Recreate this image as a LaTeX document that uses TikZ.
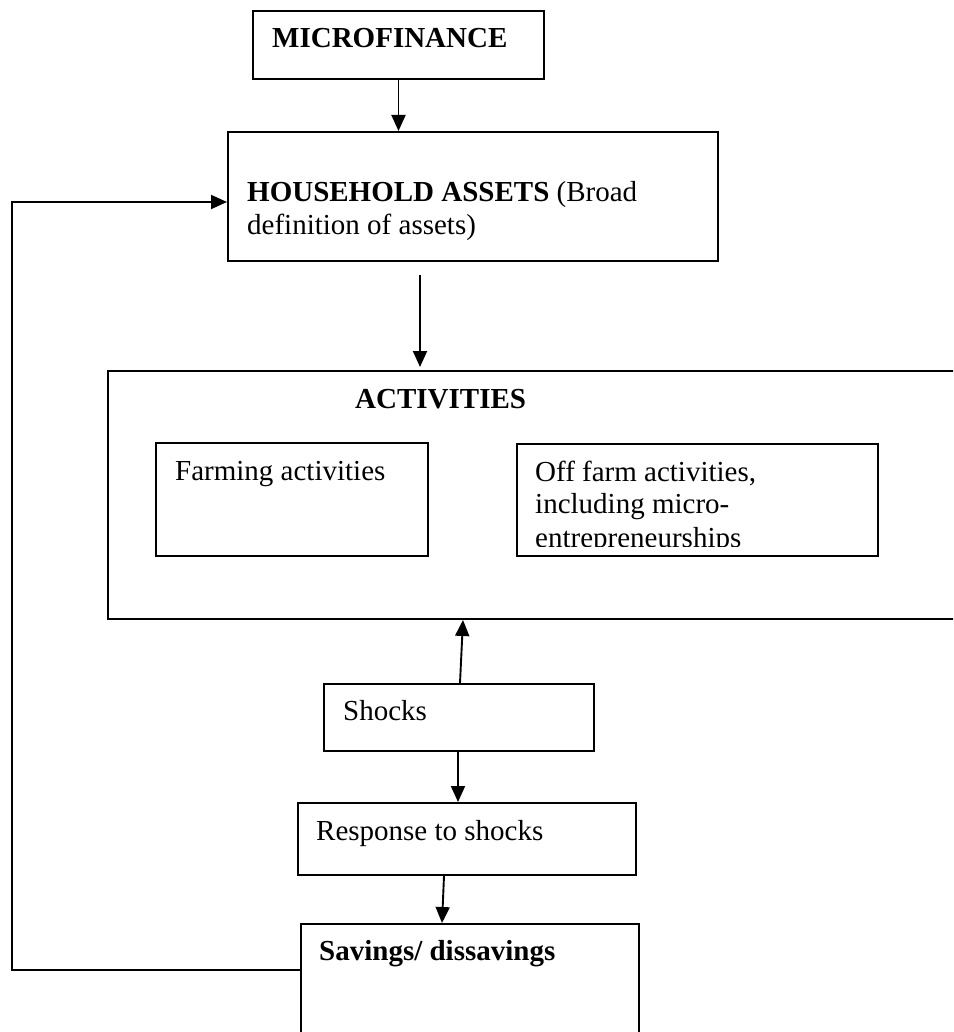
\documentclass[tikz,border=0pt]{standalone}
\usepackage{fontspec}
\setmainfont{Liberation Serif}
\usetikzlibrary{arrows.meta,calc}
\begin{document}
\begin{tikzpicture}[x=1pt,y=-1pt,
  box/.style={draw, line width=2pt, rectangle, inner sep=0pt, anchor=north west},
  txt/.style={anchor=base west, inner sep=0pt, font=\fontsize{29}{32}\selectfont},
  arr/.style={line width=1.9pt, -{Triangle[length=16pt,width=14pt]}}]
\clip (0,0) rectangle (953,1032);
\fill[white] (0,0) rectangle (953,1032);

% boxes
\node[box, minimum width=291pt, minimum height=68pt]  (mf)  at (252,10)  {};
\node[box, minimum width=490pt, minimum height=129pt] (hh)  at (227,131) {};
\node[box, minimum width=860pt, minimum height=248pt] (act) at (107,370) {};
\node[box, minimum width=272pt, minimum height=113pt] (farm) at (155,442) {};
\node[box, minimum width=361pt, minimum height=112pt] (off) at (516,443) {};
\node[box, minimum width=270pt, minimum height=67pt]  (sh)  at (323,683) {};
\node[box, minimum width=338pt, minimum height=72pt]  (rs)  at (297,802) {};
\node[box, minimum width=338pt, minimum height=130pt] (sv)  at (300,923) {};

% labels
\node[txt] (tmf) at (272,48) {\bfseries MICROFINANCE};
\node[txt] (thh1) at (247,202) {\textbf{HOUSEHOLD ASSETS} (Broad};
\node[txt] (thh2) at (247,234) {definition of assets)};
\node[txt] (tact) at (355,408) {\bfseries ACTIVITIES};
\node[txt] (tfarm) at (175,480) {Farming activities};
\begin{scope}
  \clip (516,443) rectangle (877,546);
  \node[txt] (toff1) at (535,481) {Off farm activities,};
  \node[txt] (toff2) at (535,513) {including micro-};
  \node[txt] (toff3) at (535,547) {entrepreneurships};
\end{scope}
\node[txt] (tsh) at (343,720) {Shocks};
\node[txt] (trs) at (316,840) {Response to shocks};
\node[txt] (tsv) at (319,960) {\bfseries Savings/ dissavings};

% connectors
\draw[arr] (mf.south) -- (mf.south |- hh.north);
\draw[arr, shorten >=3pt] ([xshift=193pt,yshift=-13pt]hh.south west) -- ([xshift=313pt]act.north west);
\draw[arr] ([xshift=137pt]sh.north west) -- ([xshift=356pt]act.south west);
\draw[arr] ([xshift=135pt]sh.south west) -- ([xshift=161pt]rs.north west);
\draw[arr] ([xshift=147pt]rs.south west) -- ([xshift=142pt]sv.north west);
\draw[arr] ([yshift=-47pt]sv.north west) -- ++(-288,0) |- ([yshift=-71pt]hh.north west);
\end{tikzpicture}
\end{document}
